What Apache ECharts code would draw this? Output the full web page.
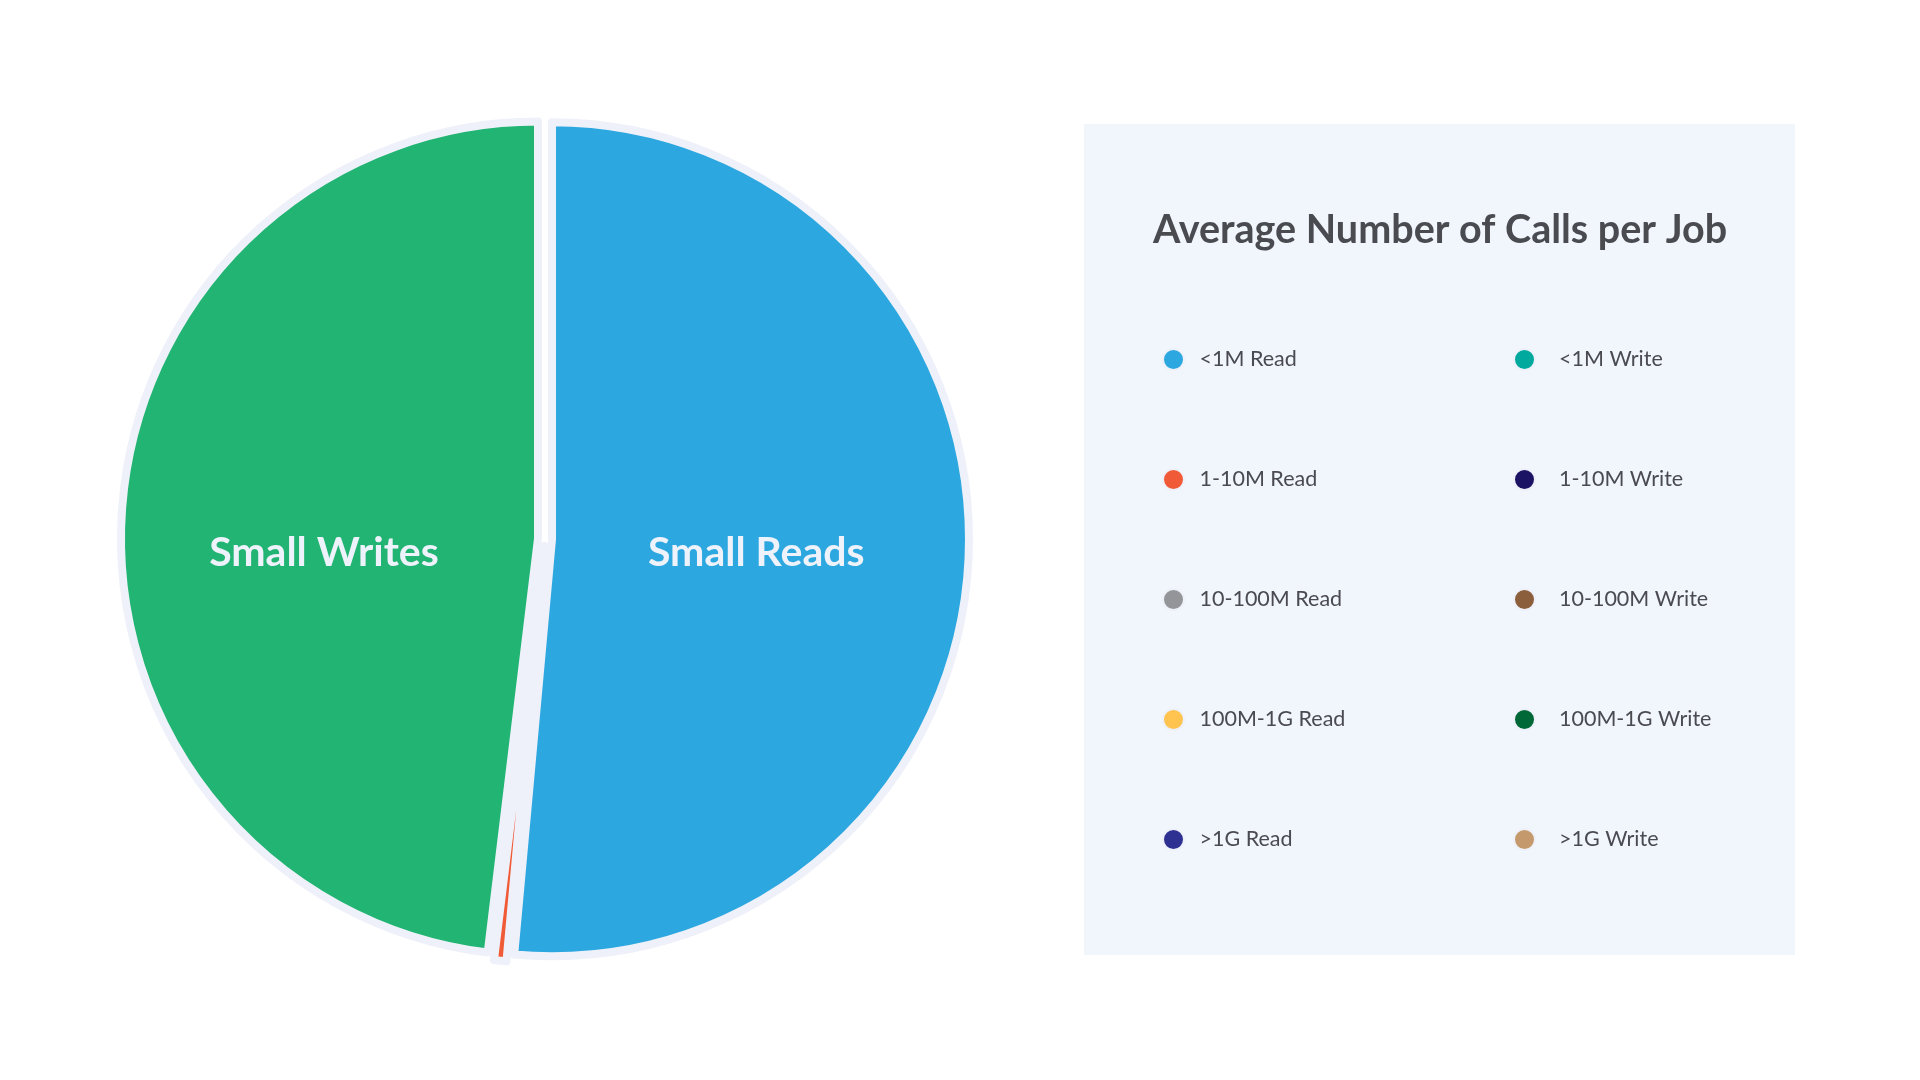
<!DOCTYPE html>
<html>
<head>
<meta charset="utf-8">
<title>Average Number of Calls per Job</title>
<script src="https://cdn.jsdelivr.net/npm/echarts@6/dist/echarts.min.js"></script>
<style>
    html, body { margin: 0; padding: 0; background: #ffffff; }
    #main { width: 1920px; height: 1080px; }
</style>
</head>
<body>
<div id="main"></div>
<script>
    // 数据
    var readNames = ['<1M Read', '1-10M Read', '10-100M Read', '100M-1G Read', '>1G Read'];
    var writeNames = ['<1M Write', '1-10M Write', '10-100M Write', '100M-1G Write', '>1G Write'];
    var readValues = [5147, 48, 0, 0, 0];
    var writeValues = [4810, 0, 0, 0, 0];
    var readLabels = ['Small Reads', '', '', '', ''];
    var writeLabels = ['Small Writes', '', '', '', ''];

    // 颜色
    var readColors = ['#2ca7e0', '#f15a36', '#939598', '#fec44f', '#2e3192'];
    var writeColors = ['#00a99d', '#1b1464', '#8b5e3c', '#006837', '#c49a6c'];
    var writeSliceColors = ['#22b473', '#1b1464', '#8b5e3c', '#006837', '#c49a6c'];

    var borderColor = '#eef1f9';
    var textColor = '#4a4b50';
    var fontFamily = 'Lato, "Noto Sans", sans-serif';

    // 标签微调:用空行把标签往下推,右侧留白把标签往左推
    var labelShift = {
        'Small Reads': { lineHeight: 8, right: 14 },
        'Small Writes': { lineHeight: 54, right: 6 }
    };

    function buildSlices(names, values, colors, labels) {
        return names.map(function(name, i) {
            var text = labels[i];
            var shift = labelShift[text];
            return {
                name: name,
                value: values[i] === 0 ? '-' : values[i],
                selected: true,
                itemStyle: { color: colors[i] },
                label: {
                    show: text !== '',
                    formatter: shift ? '\n' + text : text,
                    lineHeight: shift ? shift.lineHeight : 50,
                    padding: shift ? [0, shift.right, 0, 0] : 0
                }
            };
        });
    }

    function buildLegendData(names, colors) {
        return names.map(function(name, i) {
            return { name: name, itemStyle: { color: colors[i] } };
        });
    }

    function legendOpts(names, colors, left, itemWidth) {
        return {
            orient: 'vertical',
            left: left,
            top: 348,
            itemWidth: itemWidth,
            itemHeight: 21,
            itemGap: 97,
            icon: 'circle',
            selectedMode: false,
            padding: 0,
            textStyle: {
                color: textColor,
                fontFamily: fontFamily,
                fontSize: 21.5,
                lineHeight: 21
            },
            data: buildLegendData(names, colors)
        };
    }

    var slices = buildSlices(readNames, readValues, readColors, readLabels)
        .concat(buildSlices(writeNames, writeValues, writeSliceColors, writeLabels));

    var myChart = echarts.init(document.getElementById('main'));

    myChart.setOption({
        animation: false,
        title: {
            text: 'Average Number of Calls per Job',
            left: 1153,
            top: 210,
            padding: 0,
            textStyle: {
                color: textColor,
                fontFamily: fontFamily,
                fontSize: 39.5,
                fontWeight: 'bold'
            }
        },
        graphic: [{
            type: 'rect',
            silent: true,
            z: -10,
            shape: { x: 1084, y: 124, width: 711, height: 831 },
            style: { fill: '#f1f5fc' }
        }],
        legend: [
            legendOpts(readNames, readColors, 1162, 42),
            legendOpts(writeNames, writeColors, 1513, 59)
        ],
        series: [{
            type: 'pie',
            center: [545, 539],
            radius: 417,
            startAngle: 90,
            clockwise: true,
            selectedMode: 'multiple',
            selectedOffset: 7,
            itemStyle: {
                borderColor: borderColor,
                borderWidth: 8
            },
            select: {
                itemStyle: { borderColor: borderColor, borderWidth: 8 }
            },
            emphasis: { disabled: true },
            label: {
                position: 'inside',
                color: '#eef2fa',
                fontFamily: fontFamily,
                fontSize: 41,
                fontWeight: 'bold'
            },
            labelLine: { show: false },
            data: slices
        }]
    });
</script>
</body>
</html>
